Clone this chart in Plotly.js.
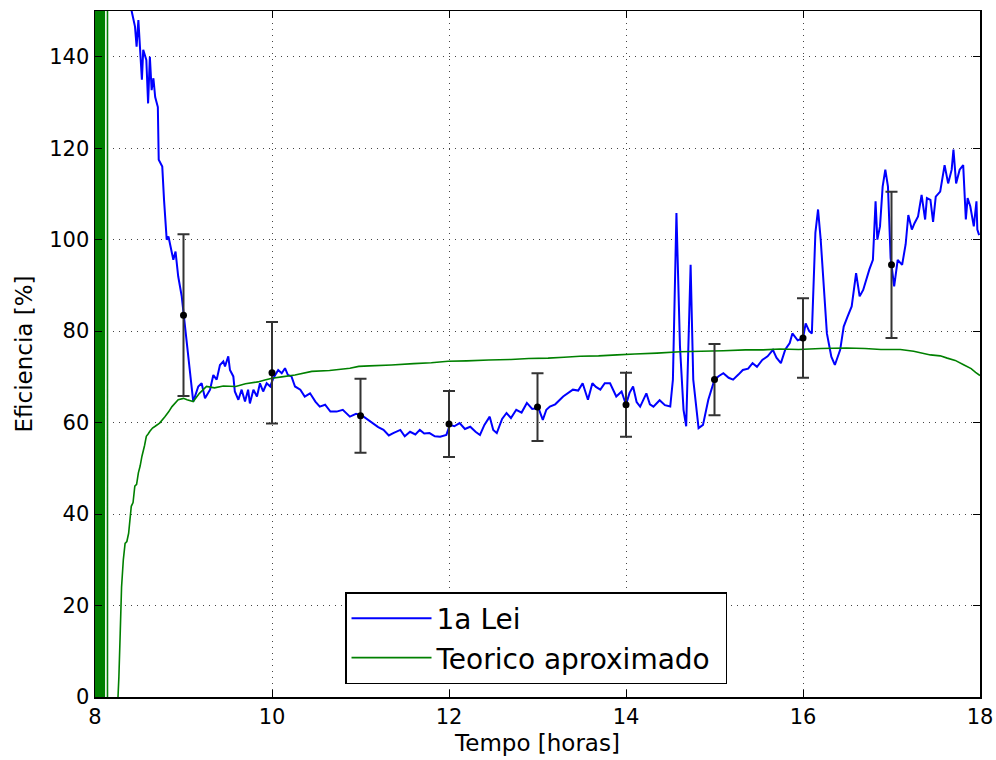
<!DOCTYPE html>
<html>
<head>
<meta charset="utf-8">
<script src="https://cdn.plot.ly/plotly-3.0.1.min.js"></script>
<style>html,body{margin:0;padding:0;background:#fff;}#chart{width:996px;height:760px;}</style>
</head>
<body>
<div id="chart"></div>
<script>
// ---- 1a Lei (blue) ----
const leiTime = [8.39, 8.414, 8.452, 8.47, 8.49, 8.51, 8.53, 8.545, 8.58, 8.60, 8.62, 8.64, 8.66, 8.68, 8.71, 8.72, 8.76, 8.78, 8.81, 8.83, 8.85, 8.885, 8.91, 8.94, 8.98, 9.00, 9.036, 9.11, 9.167, 9.205, 9.243, 9.30, 9.337, 9.375, 9.412, 9.45, 9.469, 9.506, 9.525, 9.563, 9.58, 9.62, 9.657, 9.695, 9.73, 9.75, 9.79, 9.83, 9.864, 9.90, 9.94, 9.98, 10.015, 10.07, 10.11, 10.147, 10.18, 10.22, 10.26, 10.32, 10.37, 10.43, 10.49, 10.54, 10.60, 10.66, 10.73, 10.80, 10.88, 10.95, 11.02, 11.08, 11.14, 11.20, 11.26, 11.32, 11.37, 11.45, 11.50, 11.56, 11.62, 11.67, 11.72, 11.78, 11.84, 11.90, 11.97, 12.01, 12.06, 12.12, 12.18, 12.24, 12.30, 12.35, 12.40, 12.46, 12.50, 12.54, 12.60, 12.65, 12.70, 12.76, 12.82, 12.88, 12.94, 13.01, 13.06, 13.10, 13.14, 13.20, 13.29, 13.35, 13.40, 13.46, 13.51, 13.57, 13.62, 13.66, 13.71, 13.76, 13.82, 13.89, 13.95, 14.0, 14.04, 14.08, 14.12, 14.16, 14.23, 14.27, 14.31, 14.38, 14.44, 14.50, 14.53, 14.57, 14.61, 14.65, 14.68, 14.73, 14.76, 14.82, 14.87, 14.93, 15.0, 15.05, 15.10, 15.16, 15.21, 15.27, 15.32, 15.38, 15.43, 15.48, 15.54, 15.60, 15.66, 15.70, 15.75, 15.80, 15.85, 15.88, 15.94, 16.0, 16.03, 16.07, 16.10, 16.14, 16.17, 16.20, 16.23, 16.27, 16.32, 16.36, 16.42, 16.46, 16.50, 16.55, 16.60, 16.64, 16.68, 16.71, 16.75, 16.79, 16.82, 16.84, 16.87, 16.90, 16.93, 16.96, 16.99, 17.03, 17.07, 17.12, 17.16, 17.19, 17.23, 17.26, 17.30, 17.34, 17.38, 17.40, 17.44, 17.47, 17.50, 17.55, 17.58, 17.60, 17.64, 17.68, 17.70, 17.73, 17.77, 17.81, 17.84, 17.86, 17.89, 17.93, 17.96, 17.97, 17.99, 18.0];
const leiValue = [158, 150, 146.6, 142.2, 148, 140, 135, 141.5, 139.3, 129.8, 140, 132.7, 135.3, 131.2, 129, 117.5, 116, 108.7, 100, 100.7, 98.5, 95.6, 97.4, 92, 87.6, 84, 78.1, 64.6, 67.9, 68.6, 65.3, 67.2, 70.4, 69.4, 72.6, 73.4, 72.3, 74.5, 71.5, 70.1, 66.8, 65.0, 67.2, 64.6, 67.2, 64.2, 67.2, 65.7, 68.6, 66.8, 68.6, 67.9, 69.7, 71.5, 70.8, 71.9, 70.4, 70.1, 67.9, 67.2, 65.7, 66.4, 64.6, 63.5, 63.9, 62.4, 62.4, 62.8, 61.3, 61.9, 61.5, 60.6, 59.9, 59.0, 58.4, 57.2, 57.7, 58.4, 57.0, 58.0, 57.4, 58.4, 57.6, 57.7, 57.0, 56.9, 57.3, 59.5, 59.2, 59.9, 58.6, 59.1, 58.0, 57.3, 59.5, 61.3, 58.4, 57.7, 60.8, 62.1, 61.0, 62.8, 62.2, 64.3, 63.0, 63.2, 60.6, 62.8, 63.5, 64.0, 65.7, 66.5, 67.2, 67.0, 68.6, 65.0, 68.6, 67.8, 67.2, 68.6, 68.6, 65.7, 66.8, 63.9, 66.5, 67.9, 64.5, 63.5, 66.4, 64.0, 63.5, 64.9, 63.8, 63.5, 69.4, 105.8, 76.6, 62.8, 59.2, 94.5, 69.4, 58.8, 59.5, 65.0, 69.4, 70.2, 70.8, 69.8, 69.4, 70.5, 71.5, 71.8, 73.0, 72.2, 73.7, 74.5, 75.9, 74.2, 73.0, 76.0, 77.4, 79.5, 78.0, 78.4, 81.7, 80.0, 79.5, 101.5, 106.6, 100.0, 91.2, 79.5, 74.4, 72.6, 75.9, 81.0, 83.0, 85.4, 92.7, 87.6, 89.0, 91.2, 93.5, 95.6, 108.4, 100.0, 102.9, 111.6, 115.3, 111.6, 96.0, 89.8, 95.6, 94.5, 99.0, 105.4, 102.2, 103.6, 105.1, 109.8, 104.4, 109.1, 108.7, 103.9, 109.4, 110.5, 113.8, 116.3, 112.3, 115.3, 119.7, 112.3, 115.3, 116.3, 104.4, 109.1, 107.3, 102.9, 108.4, 102.2, 101.0];

// ---- Teorico aproximado (green) ----
const teoTime = [8.005, 8.005, 8.015, 8.015, 8.025, 8.025, 8.035, 8.035, 8.045, 8.045, 8.055, 8.055, 8.065, 8.065, 8.075, 8.075, 8.085, 8.085, 8.095, 8.095, 8.105, 8.105, 8.141, 8.141, 8.25, 8.26, 8.27, 8.285, 8.30, 8.32, 8.34, 8.36, 8.38, 8.41, 8.43, 8.45, 8.47, 8.49, 8.51, 8.53, 8.56, 8.58, 8.60, 8.62, 8.65, 8.68, 8.73, 8.79, 8.83, 8.87, 8.94, 9.00, 9.04, 9.11, 9.18, 9.26, 9.35, 9.45, 9.59, 9.7, 9.84, 9.92, 10.0, 10.11, 10.26, 10.45, 10.65, 10.88, 10.98, 11.1, 11.35, 11.6, 11.8, 11.99, 12.2, 12.45, 12.7, 12.9, 13.12, 13.3, 13.48, 13.69, 13.9, 14.1, 14.35, 14.61, 14.85, 15.1, 15.35, 15.55, 15.74, 15.95, 16.2, 16.49, 16.7, 16.88, 17.1, 17.25, 17.44, 17.55, 17.63, 17.72, 17.82, 17.9, 17.95, 18.0];
const teoValue = [-10000, 10000, 10000, -10000, -10000, 10000, 10000, -10000, -10000, 10000, 10000, -10000, -10000, 10000, 10000, -10000, -10000, 10000, 10000, -10000, -10000, 10000, 10000, -10000, -10000, 0, 4.4, 14, 24, 30, 33.6, 34, 35.8, 41.7, 42.5, 46.1, 46.5, 49, 50.5, 52.6, 55, 57, 57.5, 58.1, 58.8, 59.2, 59.9, 61.3, 62.3, 63.5, 65, 65.3, 65.0, 64.6, 66.4, 67.9, 67.6, 68.0, 67.9, 68.5, 68.9, 69.3, 69.7, 70.0, 70.4, 71.2, 71.4, 71.9, 72.3, 72.4, 72.6, 72.9, 73.1, 73.4, 73.5, 73.7, 73.8, 74.0, 74.1, 74.3, 74.5, 74.6, 74.8, 75.0, 75.2, 75.5, 75.6, 75.7, 75.9, 75.9, 76.1, 76.0, 76.2, 76.3, 76.2, 76.0, 76.0, 75.6, 74.8, 74.6, 74.1, 73.6, 72.6, 71.8, 71.0, 70.3];

// ---- Error bars ----
const errTime = [9, 10, 11, 12, 13, 14, 15, 16, 17];
const errValue = [83.5, 70.9, 61.5, 59.7, 63.4, 63.9, 69.4, 78.5, 94.5];
const errSize = [17.7, 11.1, 8.1, 7.2, 7.4, 7.0, 7.8, 8.7, 16.0];

const seriesNames = ['1a Lei', 'Teorico aproximado'];
const xTicks = [8, 10, 12, 14, 16, 18];
const yTicks = [0, 20, 40, 60, 80, 100, 120, 140];

const font = 'DejaVu Sans, sans-serif';

const traces = [
  {x: leiTime, y: leiValue, type: 'scatter', mode: 'lines', name: seriesNames[0],
   line: {color: '#0000ff', width: 2}},
  {x: teoTime, y: teoValue, type: 'scatter', mode: 'lines', name: seriesNames[1] + '\u00a0',
   line: {color: '#008000', width: 1.6, simplify: false}},
  {x: errTime, y: errValue, type: 'scatter', mode: 'markers', showlegend: false,
   marker: {color: '#000000', size: 7},
   error_y: {type: 'data', array: errSize, visible: true, color: '#333333', thickness: 2, width: 6}}
];

const axisCommon = {
  showline: true, linecolor: '#000', linewidth: 1.5, mirror: 'ticks',
  ticks: 'inside', ticklen: 7, tickwidth: 1, tickcolor: '#000',
  showgrid: true, gridcolor: '#444', gridwidth: 1, griddash: '1px,5px',
  zeroline: false, tickfont: {family: font, size: 21, color: '#000'}
};

const layout = {
  width: 996, height: 760,
  margin: {l: 95, r: 16, t: 11, b: 63},
  paper_bgcolor: '#fff', plot_bgcolor: '#fff',
  showlegend: true,
  xaxis: Object.assign({}, axisCommon, {
    range: [8, 18], tickvals: xTicks, ticktext: xTicks.map(String),
    title: {text: 'Tempo [horas]', font: {family: font, size: 23, color: '#000'}, standoff: 7}
  }),
  yaxis: Object.assign({}, axisCommon, {
    range: [0, 150], tickvals: yTicks, ticktext: yTicks.map(String),
    title: {text: 'Eficiencia [%]', font: {family: font, size: 23, color: '#000'}, standoff: 10}
  }),
  legend: {
    x: 0.2825, y: 0.153, xanchor: 'left', yanchor: 'top',
    bgcolor: '#fff', bordercolor: '#000', borderwidth: 1.5,
    font: {family: font, size: 28, color: '#000'},
    itemwidth: 80
  }
};

Plotly.newPlot('chart', traces, layout, {displayModeBar: false, staticPlot: true});
</script>
</body>
</html>
